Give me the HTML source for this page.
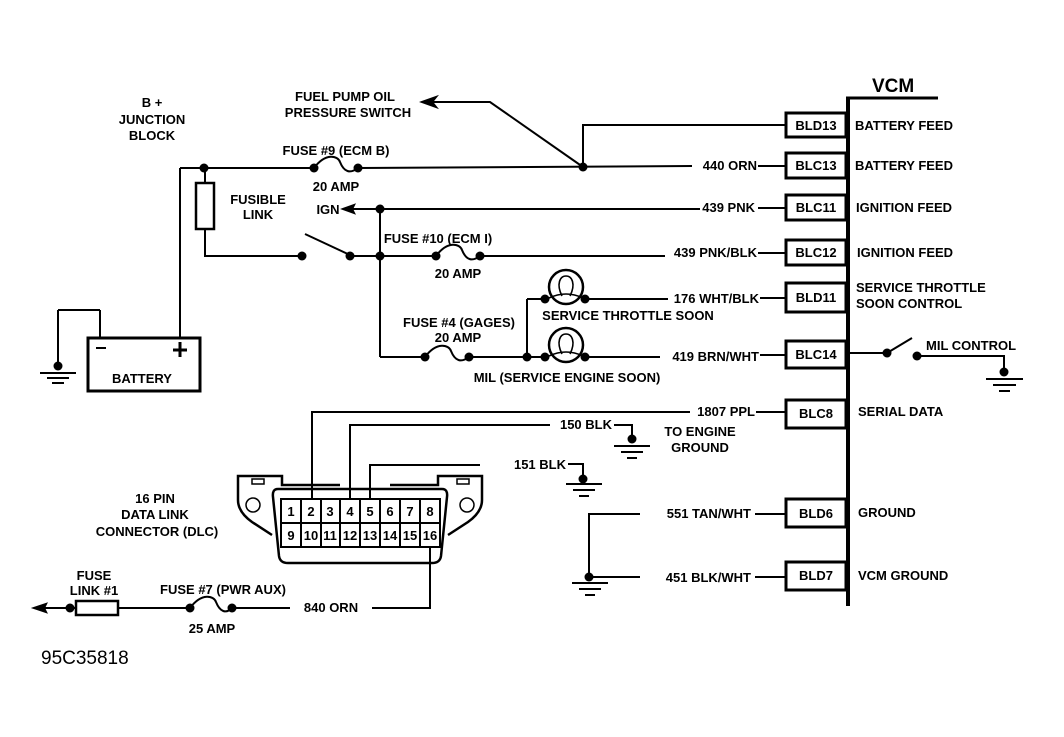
<!DOCTYPE html>
<html><head><meta charset="utf-8"><style>
html,body{margin:0;padding:0;background:#fff;}
svg{display:block;}
text{font-family:"Liberation Sans",Arial,sans-serif;font-weight:bold;font-size:13px;fill:#000;}
</style></head><body>
<svg width="1064" height="737" viewBox="0 0 1064 737" xmlns="http://www.w3.org/2000/svg">
<g stroke="#000" stroke-width="2" fill="none">
<line x1="848" y1="98" x2="848" y2="606" stroke-width="4"/>
<line x1="846" y1="98" x2="938" y2="98" stroke-width="3"/>
<rect x="786" y="113" width="60" height="24" stroke-width="3"/>
<rect x="786" y="153" width="60" height="25" stroke-width="3"/>
<rect x="786" y="195" width="60" height="25" stroke-width="3"/>
<rect x="786" y="240" width="60" height="25" stroke-width="3"/>
<rect x="786" y="283" width="60" height="29" stroke-width="3"/>
<rect x="786" y="341" width="60" height="27" stroke-width="3"/>
<rect x="786" y="400" width="60" height="28" stroke-width="3"/>
<rect x="786" y="499" width="60" height="28" stroke-width="3"/>
<rect x="786" y="562" width="60" height="28" stroke-width="3"/>
<line x1="180" y1="168" x2="314" y2="168"/>
<line x1="358" y1="168" x2="692" y2="166"/>
<path d="M314 168 C326 152,338 156,340 162 C344 172,350 174,358 168"/>
<polyline points="583,167 583,125 785,125"/>
<polyline points="583,167 490,102 425,102"/>
<polygon points="422,102 436,97 432,102 436,107" fill="#000"/>
<line x1="180" y1="168" x2="180" y2="338"/>
<rect x="88" y="338" width="112" height="53" stroke-width="3"/>
<line x1="100" y1="338" x2="100" y2="310"/>
<line x1="100" y1="310" x2="58" y2="310"/>
<line x1="58" y1="310" x2="58" y2="365"/>
<line x1="40" y1="373" x2="76" y2="373"/>
<line x1="47" y1="378" x2="69" y2="378"/>
<line x1="52" y1="383" x2="64" y2="383"/>
<line x1="96" y1="348" x2="106" y2="348"/>
<line x1="180" y1="342" x2="180" y2="357" stroke-width="3"/>
<line x1="173" y1="350" x2="187" y2="350" stroke-width="3"/>
<line x1="205" y1="168" x2="205" y2="183"/>
<rect x="196" y="183" width="18" height="46" stroke-width="2.5"/>
<polyline points="205,229 205,256 302,256"/>
<line x1="305" y1="234" x2="350" y2="255"/>
<line x1="350" y1="256" x2="436" y2="256"/>
<line x1="480" y1="256" x2="665" y2="256"/>
<line x1="758" y1="253" x2="785" y2="253"/>
<path d="M436 256 C448 240,460 244,462 250 C466 260,472 262,480 256"/>
<line x1="380" y1="209" x2="380" y2="357"/>
<line x1="347" y1="209" x2="700" y2="209"/>
<line x1="758" y1="208" x2="785" y2="208"/>
<polygon points="343,209 354,205 352,209 354,213" fill="#000"/>
<line x1="758" y1="166" x2="785" y2="166"/>
<line x1="380" y1="357" x2="425" y2="357"/>
<path d="M425 357 C437 341,449 345,451 351 C455 361,461 363,469 357"/>
<line x1="469" y1="357" x2="545" y2="357"/>
<line x1="527" y1="299" x2="527" y2="357"/>
<line x1="527" y1="299" x2="545" y2="299"/>
<circle cx="566" cy="287" r="17" stroke-width="2.5"/>
<circle cx="566" cy="345" r="17" stroke-width="2.5"/>
<path d="M549 298 Q566 290 583 298 M562 296 C556 284,560 276,566 276 C572 276,576 284,570 296" stroke-width="1.6"/>
<path d="M549 356 Q566 348 583 356 M562 354 C556 342,560 334,566 334 C572 334,576 342,570 354" stroke-width="1.6"/>
<line x1="585" y1="299" x2="668" y2="299"/>
<line x1="760" y1="298" x2="785" y2="298"/>
<line x1="585" y1="357" x2="660" y2="357"/>
<line x1="760" y1="355" x2="785" y2="355"/>
<line x1="850" y1="353" x2="887" y2="353"/>
<line x1="887" y1="353" x2="912" y2="338"/>
<polyline points="917,356 1004,356 1004,372"/>
<line x1="986" y1="379" x2="1023" y2="379"/>
<line x1="993" y1="385" x2="1016" y2="385"/>
<line x1="999" y1="391" x2="1010" y2="391"/>
<polyline points="312,500 312,412 690,412"/>
<line x1="756" y1="412" x2="785" y2="412"/>
<polyline points="350,500 350,425 550,425"/>
<polyline points="614,425 632,425 632,438"/>
<line x1="614" y1="446" x2="650" y2="446"/>
<line x1="621" y1="452" x2="643" y2="452"/>
<line x1="627" y1="458" x2="637" y2="458"/>
<polyline points="370,500 370,465 480,465"/>
<polyline points="568,464 583,464 583,478"/>
<line x1="566" y1="484" x2="602" y2="484"/>
<line x1="573" y1="490" x2="595" y2="490"/>
<line x1="579" y1="496" x2="589" y2="496"/>
<polyline points="640,514 589,514 589,577 640,577"/>
<line x1="755" y1="514" x2="785" y2="514"/>
<line x1="755" y1="577" x2="785" y2="577"/>
<line x1="572" y1="583" x2="608" y2="583"/>
<line x1="579" y1="589" x2="601" y2="589"/>
<line x1="585" y1="595" x2="595" y2="595"/>
<path d="M272 535 L252 522 Q238 512 238 500 L238 476 L282 476 L282 485 L340 485" stroke-width="2.5"/>
<path d="M448 535 L468 522 Q482 512 482 500 L482 476 L438 476 L438 485 L390 485" stroke-width="2.5"/>
<rect x="252" y="479" width="12" height="5" stroke-width="1.5"/>
<rect x="457" y="479" width="12" height="5" stroke-width="1.5"/>
<circle cx="253" cy="505" r="7" stroke-width="1.5"/>
<circle cx="467" cy="505" r="7" stroke-width="1.5"/>
<path d="M278 489 L442 489 Q448 489 447 497 L441 556 Q440 563 432 563 L288 563 Q280 563 279 556 L273 497 Q272 489 278 489 Z" stroke-width="2.5"/>
<rect x="281" y="499" width="159" height="48" stroke-width="2"/>
<line x1="281" y1="523" x2="440" y2="523"/>
<line x1="301" y1="499" x2="301" y2="547"/>
<line x1="321" y1="499" x2="321" y2="547"/>
<line x1="340" y1="499" x2="340" y2="547"/>
<line x1="360" y1="499" x2="360" y2="547"/>
<line x1="380" y1="499" x2="380" y2="547"/>
<line x1="400" y1="499" x2="400" y2="547"/>
<line x1="420" y1="499" x2="420" y2="547"/>
<polyline points="430,547 430,608 372,608"/>
<line x1="290" y1="608" x2="232" y2="608"/>
<path d="M190 608 C202 592,214 596,216 602 C220 612,226 614,232 608"/>
<line x1="118" y1="608" x2="190" y2="608"/>
<rect x="76" y="601" width="42" height="14" stroke-width="2.5"/>
<line x1="40" y1="608" x2="76" y2="608"/>
<polygon points="34,608 46,604 44,608 46,612" fill="#000"/>
</g>
<g fill="#000">
<circle cx="204" cy="168" r="4.5"/>
<circle cx="314" cy="168" r="4.5"/><circle cx="358" cy="168" r="4.5"/>
<circle cx="583" cy="167" r="4.5"/>
<circle cx="380" cy="209" r="4.5"/>
<circle cx="302" cy="256" r="4.5"/><circle cx="350" cy="256" r="4.5"/><circle cx="380" cy="256" r="4.5"/>
<circle cx="436" cy="256" r="4.5"/><circle cx="480" cy="256" r="4.5"/>
<circle cx="425" cy="357" r="4.5"/><circle cx="469" cy="357" r="4.5"/>
<circle cx="527" cy="357" r="4.5"/>
<circle cx="545" cy="299" r="4.5"/><circle cx="585" cy="299" r="4.5"/>
<circle cx="545" cy="357" r="4.5"/><circle cx="585" cy="357" r="4.5"/>
<circle cx="58" cy="366" r="4.5"/>
<circle cx="887" cy="353" r="4.5"/><circle cx="917" cy="356" r="4.5"/>
<circle cx="1004" cy="372" r="4.5"/>
<circle cx="632" cy="439" r="4.5"/><circle cx="583" cy="479" r="4.5"/>
<circle cx="589" cy="577" r="4.5"/>
<circle cx="190" cy="608" r="4.5"/><circle cx="232" cy="608" r="4.5"/>
<circle cx="70" cy="608" r="4.5"/>
</g>
<g>
<text x="872" y="92" style="font-size:19px">VCM</text>
<text x="816" y="130" text-anchor="middle">BLD13</text>
<text x="816" y="170" text-anchor="middle">BLC13</text>
<text x="816" y="212" text-anchor="middle">BLC11</text>
<text x="816" y="257" text-anchor="middle">BLC12</text>
<text x="816" y="302" text-anchor="middle">BLD11</text>
<text x="816" y="359" text-anchor="middle">BLC14</text>
<text x="816" y="418" text-anchor="middle">BLC8</text>
<text x="816" y="518" text-anchor="middle">BLD6</text>
<text x="816" y="580" text-anchor="middle">BLD7</text>
<text x="855" y="130">BATTERY FEED</text>
<text x="855" y="170">BATTERY FEED</text>
<text x="856" y="212">IGNITION FEED</text>
<text x="857" y="257">IGNITION FEED</text>
<text x="856" y="292">SERVICE THROTTLE</text>
<text x="856" y="308">SOON CONTROL</text>
<text x="926" y="350">MIL CONTROL</text>
<text x="858" y="416">SERIAL DATA</text>
<text x="858" y="517">GROUND</text>
<text x="858" y="580">VCM GROUND</text>
<text x="757" y="170" text-anchor="end">440 ORN</text>
<text x="755" y="212" text-anchor="end">439 PNK</text>
<text x="757" y="257" text-anchor="end">439 PNK/BLK</text>
<text x="759" y="303" text-anchor="end">176 WHT/BLK</text>
<text x="759" y="361" text-anchor="end">419 BRN/WHT</text>
<text x="755" y="416" text-anchor="end">1807 PPL</text>
<text x="612" y="429" text-anchor="end">150 BLK</text>
<text x="566" y="469" text-anchor="end">151 BLK</text>
<text x="751" y="518" text-anchor="end">551 TAN/WHT</text>
<text x="751" y="582" text-anchor="end">451 BLK/WHT</text>
<text x="700" y="436" text-anchor="middle">TO ENGINE</text>
<text x="700" y="452" text-anchor="middle">GROUND</text>
<text x="345" y="101" text-anchor="middle">FUEL PUMP OIL</text>
<text x="348" y="117" text-anchor="middle">PRESSURE SWITCH</text>
<text x="152" y="107" text-anchor="middle">B +</text>
<text x="152" y="124" text-anchor="middle">JUNCTION</text>
<text x="152" y="140" text-anchor="middle">BLOCK</text>
<text x="336" y="155" text-anchor="middle">FUSE #9 (ECM B)</text>
<text x="336" y="191" text-anchor="middle">20 AMP</text>
<text x="258" y="204" text-anchor="middle">FUSIBLE</text>
<text x="258" y="219" text-anchor="middle">LINK</text>
<text x="328" y="214" text-anchor="middle">IGN</text>
<text x="438" y="243" text-anchor="middle">FUSE #10 (ECM I)</text>
<text x="458" y="278" text-anchor="middle">20 AMP</text>
<text x="459" y="327" text-anchor="middle">FUSE #4 (GAGES)</text>
<text x="458" y="342" text-anchor="middle">20 AMP</text>
<text x="628" y="320" text-anchor="middle">SERVICE THROTTLE SOON</text>
<text x="567" y="382" text-anchor="middle">MIL (SERVICE ENGINE SOON)</text>
<text x="142" y="383" text-anchor="middle">BATTERY</text>
<text x="155" y="503" text-anchor="middle">16 PIN</text>
<text x="155" y="519" text-anchor="middle">DATA LINK</text>
<text x="157" y="536" text-anchor="middle">CONNECTOR (DLC)</text>
<text x="94" y="580" text-anchor="middle">FUSE</text>
<text x="94" y="595" text-anchor="middle">LINK #1</text>
<text x="223" y="594" text-anchor="middle">FUSE #7 (PWR AUX)</text>
<text x="212" y="633" text-anchor="middle">25 AMP</text>
<text x="331" y="612" text-anchor="middle">840 ORN</text>
<text x="41" y="664" style="font-weight:normal;font-size:19px">95C35818</text>
</g>
<g style="font-size:12px" text-anchor="middle">
<text x="291" y="516">1</text><text x="311" y="516">2</text><text x="330" y="516">3</text><text x="350" y="516">4</text>
<text x="370" y="516">5</text><text x="390" y="516">6</text><text x="410" y="516">7</text><text x="430" y="516">8</text>
<text x="291" y="540">9</text><text x="311" y="540">10</text><text x="330" y="540">11</text><text x="350" y="540">12</text>
<text x="370" y="540">13</text><text x="390" y="540">14</text><text x="410" y="540">15</text><text x="430" y="540">16</text>
</g>
</svg>
</body></html>
